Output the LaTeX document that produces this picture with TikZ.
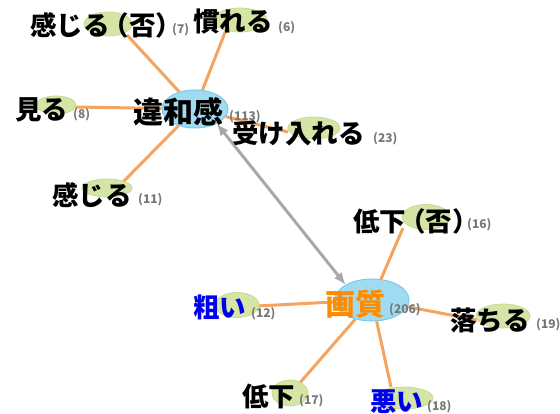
\documentclass[tikz,border=0pt]{standalone}
\usepackage{fontspec}
\newfontfamily\jpfont{Noto Sans CJK JP}
\usepackage{tikz}
\usetikzlibrary{arrows.meta, shapes.geometric}
\pgfdeclarelayer{background}
\pgfsetlayers{background,main}
\definecolor{edgeorange}{RGB}{244,164,96}
\definecolor{arrowgray}{RGB}{168,168,168}
\definecolor{hubfill}{RGB}{160,219,241}
\definecolor{hubline}{RGB}{125,200,235}
\definecolor{leaffill}{RGB}{213,229,166}
\definecolor{leafline}{RGB}{198,220,150}
\definecolor{freqgray}{RGB}{120,120,120}
\definecolor{adjblue}{RGB}{0,0,240}
\definecolor{topicorange}{RGB}{255,140,0}
\newcommand{\hitei}{\kern-0.27em（否\makebox[0.3em][l]{）}}
\tikzset{hub/.style={ellipse, draw=hubline, fill=hubfill, line width=1pt, inner sep=0pt}}
\tikzset{leaf/.style={ellipse, draw=leafline, fill=leaffill, line width=0.8pt, inner sep=0pt}}
\tikzset{word/.style={anchor=west, inner sep=0pt, font=\jpfont\bfseries\fontsize{26.5}{26.5}\selectfont}}
\tikzset{topic/.style={inner sep=0pt, font=\jpfont\bfseries\fontsize{30}{30}\selectfont}}
\tikzset{freq/.style={anchor=west, inner sep=0pt, text=freqgray, font=\jpfont\bfseries\fontsize{12}{12}\selectfont}}
\tikzset{cooc/.style={edgeorange, line width=3pt}}
\tikzset{link/.style={arrowgray, line width=3pt, {Latex[length=12pt,width=10pt]}-{Latex[length=12pt,width=10pt]}}}

\begin{document}
\begin{tikzpicture}[x=1pt, y=-1pt]
    \useasboundingbox (0, 0) rectangle (560, 414);
    % hubs
    \node[hub, minimum width=66pt, minimum height=38pt] (iwakan) at (195, 109) {};
    \node[hub, minimum width=74pt, minimum height=42pt] (gashitsu) at (372, 300) {};
    % leaf ellipses
    \node[leaf, minimum width=48pt, minimum height=24pt] (kanjiruneg) at (108, 24) {};
    \node[leaf, minimum width=54pt, minimum height=24pt] (nareru) at (240, 20) {};
    \node[leaf, minimum width=40pt, minimum height=18pt] (miru) at (56, 105) {};
    \node[leaf, minimum width=52pt, minimum height=22pt] (ukeireru) at (314, 128) {};
    \node[leaf, minimum width=50pt, minimum height=18pt] (kanjiru) at (107, 188) {};
    \node[leaf, minimum width=48pt, minimum height=25pt] (teikaneg) at (426, 217) {};
    \node[leaf, minimum width=44pt, minimum height=25pt] (arai) at (237, 305) {};
    \node[leaf, minimum width=54pt, minimum height=24pt] (ochiru) at (503, 316) {};
    \node[leaf, minimum width=36pt, minimum height=26pt] (teika) at (290, 393) {};
    \node[leaf, minimum width=58pt, minimum height=22pt] (warui) at (404, 398) {};
    % edge ends
    \coordinate (kanjiruneg end) at (127, 35);
    \coordinate (nareru end) at (226, 30);
    \coordinate (miru end) at (75, 107);
    \coordinate (ukeireru end) at (288, 132);
    \coordinate (kanjiru end) at (123, 182);
    \coordinate (teikaneg end) at (403, 228);
    \coordinate (arai end) at (257, 306);
    \coordinate (ochiru end) at (477, 320);
    \coordinate (teika end) at (298, 385);
    \coordinate (warui end) at (391, 387);
    \begin{pgfonlayer}{background}
        \foreach \w in {kanjiruneg, nareru, miru, ukeireru, kanjiru}
            \draw[cooc] (iwakan) -- (\w\space end);
        \foreach \w in {teikaneg, arai, ochiru, teika, warui}
            \draw[cooc] (gashitsu) -- (\w\space end);
        \draw[link] (iwakan.-34) -- (gashitsu.150);
    \end{pgfonlayer}
    % words
    \node[topic] (iwakan text) at (178, 112) {違和感};
    \node[freq] (iwakan freq) at (229, 117) {(113)};
    \node[topic, text=topicorange] (gashitsu text) at (355, 304) {画質};
    \node[freq] (gashitsu freq) at (389, 310) {(206)};
    \node[word] (kanjiruneg text) at (30, 25) {感じる\hitei};
    \node[freq] (kanjiruneg freq) at (172, 30) {(7)};
    \node[word] (nareru text) at (193, 22) {慣れる};
    \node[freq] (nareru freq) at (278, 28) {(6)};
    \node[word] (miru text) at (15, 110) {見る};
    \node[freq] (miru freq) at (73, 115) {(8)};
    \node[word] (ukeireru text) at (232, 133) {受け入れる};
    \node[freq] (ukeireru freq) at (373, 139) {(23)};
    \node[word] (kanjiru text) at (52, 195) {感じる};
    \node[freq] (kanjiru freq) at (138, 200) {(11)};
    \node[word] (teikaneg text) at (353, 221) {低下\hitei};
    \node[freq] (teikaneg freq) at (467, 225) {(16)};
    \node[word, text=adjblue] (arai text) at (193, 307) {粗い};
    \node[freq] (arai freq) at (251, 314) {(12)};
    \node[word] (ochiru text) at (450, 320) {落ちる};
    \node[freq] (ochiru freq) at (536, 325) {(19)};
    \node[word] (teika text) at (242, 396) {低下};
    \node[freq] (teika freq) at (299, 401) {(17)};
    \node[word, text=adjblue] (warui text) at (370, 402) {悪い};
    \node[freq] (warui freq) at (427, 407) {(18)};
\end{tikzpicture}
\end{document}
